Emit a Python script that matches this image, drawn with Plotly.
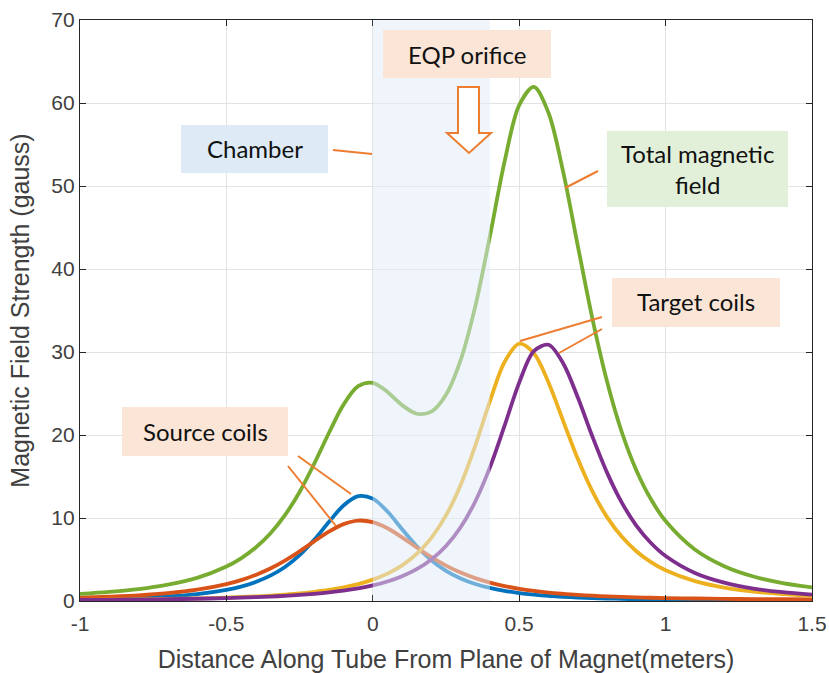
import plotly.graph_objects as go

# Position along the tube (m) and the field of each coil pair (gauss)
distance = [-1.0, -0.9, -0.8, -0.7, -0.6, -0.5, -0.45, -0.4, -0.35, -0.3, -0.25, -0.2,
            -0.15, -0.1, -0.05, 0.0, 0.05, 0.1, 0.15, 0.2, 0.25, 0.3, 0.35, 0.4, 0.45,
            0.5, 0.55, 0.6, 0.65, 0.7, 0.75, 0.8, 0.85, 0.9, 0.95, 1.0, 1.1, 1.2, 1.3,
            1.4, 1.5]

source_coil_1 = [0.20, 0.27, 0.38, 0.55, 0.84, 1.35, 1.74, 2.29, 3.05, 4.10, 5.53, 7.38,
                 9.52, 11.51, 12.63, 12.33, 10.78, 8.65, 6.60, 4.91, 3.64, 2.72, 2.05, 1.57,
                 1.22, 0.96, 0.77, 0.62, 0.51, 0.42, 0.35, 0.30, 0.26, 0.22, 0.19, 0.16,
                 0.13, 0.10, 0.08, 0.06, 0.05]

source_coil_2 = [0.40, 0.52, 0.68, 0.94, 1.36, 2.04, 2.52, 3.14, 3.91, 4.86, 5.97, 7.19,
                 8.35, 9.26, 9.69, 9.50, 8.76, 7.67, 6.45, 5.29, 4.27, 3.43, 2.75, 2.22,
                 1.80, 1.47, 1.21, 1.00, 0.86, 0.74, 0.64, 0.56, 0.49, 0.44, 0.39, 0.35,
                 0.30, 0.26, 0.23, 0.21, 0.19]

target_coil_1 = [0.13, 0.16, 0.19, 0.25, 0.31, 0.41, 0.48, 0.55, 0.65, 0.77, 0.91, 1.10,
                 1.33, 1.64, 2.04, 2.58, 3.30, 4.30, 5.68, 7.61, 10.31, 13.98, 18.71, 24.07,
                 28.80, 31.00, 29.84, 26.33, 21.71, 17.13, 13.21, 10.11, 7.76, 6.00, 4.68,
                 3.70, 2.39, 1.62, 1.14, 0.83, 0.62]

target_coil_2 = [0.12, 0.14, 0.17, 0.22, 0.27, 0.35, 0.40, 0.46, 0.53, 0.62, 0.73, 0.87,
                 1.04, 1.25, 1.52, 1.88, 2.35, 2.98, 3.83, 5.01, 6.63, 8.89, 11.99, 16.10,
                 21.12, 26.31, 30.11, 30.87, 28.65, 24.54, 19.82, 15.47, 11.88, 9.09, 6.99,
                 5.42, 3.38, 2.21, 1.50, 1.06, 0.78]

total_field = [0.85, 1.09, 1.42, 1.96, 2.78, 4.15, 5.14, 6.44, 8.14, 10.35, 13.14, 16.54,
               20.24, 23.66, 25.88, 26.29, 25.19, 23.60, 22.56, 22.82, 24.85, 29.02, 35.50,
               43.96, 52.94, 59.74, 61.93, 58.82, 51.73, 42.83, 34.02, 26.44, 20.39, 15.75,
               12.25, 9.63, 6.20, 4.19, 2.95, 2.16, 1.64]

x_tick_values = [-1, -0.5, 0, 0.5, 1, 1.5]
x_tick_labels = ["-1", "-0.5", "0", "0.5", "1", "1.5"]
y_tick_values = [0, 10, 20, 30, 40, 50, 60, 70]

chamber_start, chamber_end = 0.0, 0.4

series = [
    ("Source coil 1", source_coil_1, "#0072BD"),
    ("Source coil 2", source_coil_2, "#D95319"),
    ("Target coil 1", target_coil_1, "#EDB120"),
    ("Target coil 2", target_coil_2, "#7E2F8E"),
    ("Total magnetic field", total_field, "#77AC30"),
]

# Plot-area geometry in pixels, used to place the callouts
W, H = 829, 673
L, R, T, B = 80, 812, 20, 601


def px(xp):
    return (xp - L) / (R - L)


def py(yp):
    return (B - yp) / (B - T)


fig = go.Figure()
for name, values, color in series:
    fig.add_trace(go.Scatter(
        x=distance, y=values, name=name, mode="lines",
        line=dict(color=color, width=3.8, shape="spline", smoothing=0.9),
        showlegend=False, hoverinfo="x+y+name",
    ))

ORANGE = "#ED7D31"
PEACH = "#FBE5D6"
PALE_BLUE = "#DEEBF7"
PALE_GREEN = "#E2F0D9"

shapes = []
# translucent chamber band over the curves
shapes.append(dict(type="rect", xref="x", yref="paper", x0=chamber_start, x1=chamber_end,
                   y0=0, y1=1, fillcolor="#E0ECF7", opacity=0.5, line=dict(width=0),
                   layer="above"))


def box(x0, y0, x1, y1, color):
    return dict(type="rect", xref="paper", yref="paper", x0=px(x0), x1=px(x1),
                y0=py(y1), y1=py(y0), fillcolor=color, line=dict(width=0), layer="above")


def leader(x0, y0, x1, y1):
    return dict(type="line", xref="paper", yref="paper", x0=px(x0), y0=py(y0),
                x1=px(x1), y1=py(y1), line=dict(color=ORANGE, width=2), layer="above")


shapes += [
    box(383, 30, 551, 78, PEACH),
    box(181, 125, 328, 173, PALE_BLUE),
    box(607, 131, 788, 207, PALE_GREEN),
    box(612, 278, 780, 327, PEACH),
    box(122, 407, 288, 456, PEACH),
    leader(333, 150, 372, 154),
    leader(598, 171, 565, 188),
    leader(602, 317, 520, 341),
    leader(602, 329, 559, 353),
    leader(298, 456, 351, 494),
    leader(288, 466, 336, 526),
]

# hollow down arrow under the orifice label
arrow_pts = [(458, 87), (479, 87), (479, 133), (491, 133), (469, 153), (447, 133), (458, 133)]
path = "M " + " L ".join(f"{px(a):.5f},{py(b):.5f}" for a, b in arrow_pts) + " Z"
shapes.append(dict(type="path", xref="paper", yref="paper", path=path, fillcolor="white",
                   line=dict(color=ORANGE, width=2), layer="above"))

label_font = dict(family="Lato, Open Sans, sans-serif", size=24, color="#111111")
labels = [
    ("EQP orifice", 467, 54),
    ("Chamber", 255, 149),
    ("Total magnetic<br>field", 697, 169),
    ("Target coils", 696, 302),
    ("Source coils", 205, 431),
]
annotations = [
    dict(text=t, xref="paper", yref="paper", x=px(cx), y=py(cy), xanchor="center",
         yanchor="middle", showarrow=False, font=label_font, align="center")
    for t, cx, cy in labels
]

axis_font = dict(family="Liberation Sans, Arial, sans-serif", size=21, color="#404040")
title_font = dict(family="Liberation Sans, Arial, sans-serif", size=25, color="#404040")
axis_common = dict(
    showgrid=True, gridcolor="#E3E3E3", gridwidth=1,
    showline=True, linecolor="#262626", linewidth=1.2, mirror="ticks",
    ticks="inside", ticklen=6, tickcolor="#262626",
    tickfont=axis_font, zeroline=False, automargin=False,
)

fig.update_layout(
    width=W, height=H,
    margin=dict(l=L, r=W - R, t=T, b=H - B, autoexpand=False),
    paper_bgcolor="white", plot_bgcolor="white",
    xaxis=dict(range=[-1, 1.5], tickvals=x_tick_values, ticktext=x_tick_labels,
               ticklabelstandoff=4,
               title=dict(text="Distance Along Tube From Plane of Magnet(meters)",
                          font=title_font, standoff=18),
               **axis_common),
    yaxis=dict(range=[0, 70], tickvals=y_tick_values,
               title=dict(text="Magnetic Field Strength (gauss)",
                          font=title_font, standoff=14),
               **axis_common),
    shapes=shapes,
    annotations=annotations,
)

fig.write_html("out.html")
